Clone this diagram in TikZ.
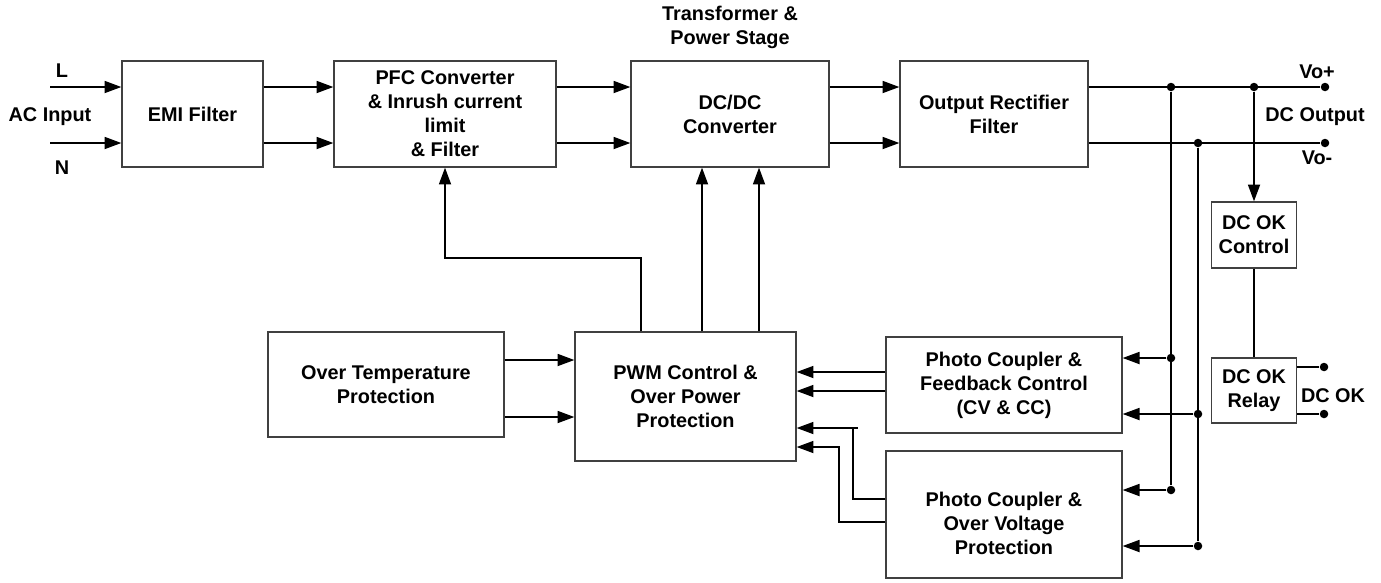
\documentclass[tikz,border=0pt]{standalone}
\usepackage{fontspec}
\setmainfont{Liberation Sans}
\usepackage{tikz}
\usetikzlibrary{positioning}
\usetikzlibrary{arrows.meta,shapes}
\usetikzlibrary{calc}
\newcommand{\boxfont}{\bfseries\fontsize{11.3pt}{13.6pt}\selectfont}
\tikzstyle{block}=[rectangle,draw=black!75,line width=0.7pt,fill=white,align=center,inner sep=2pt,font=\boxfont]
\tikzstyle{txt}=[align=center,inner sep=0pt,font=\boxfont]
\tikzstyle{dot}=[circle,fill=black,minimum size=0.17cm,inner sep=0pt]
\tikzstyle{edge} = [draw,line width=1.1pt,-{Triangle[length=9.6pt,width=6.8pt]}]
\tikzstyle{wire} = [draw,line width=1.1pt]

\begin{document}
\begin{tikzpicture}[x=0.02cm,y=-0.02cm]
    \useasboundingbox (0,0) rectangle (1381,582);
    \foreach \pos/\name/\w/\h/\label in {{(192.5,114)/emi/141/106/{EMI Filter}}, {(445,114)/pfc/222/106/{PFC Converter\\\& Inrush current\\limit\\\& Filter}}, {(730,114)/dcdc/198/106/{DC/DC\\Converter}}, {(994,114)/rect/188/106/{Output Rectifier\\Filter}}, {(386,384.5)/otp/236/105/{Over Temperature\\Protection}}, {(685.5,396.5)/pwm/221/129/{PWM Control \&\\Over Power\\Protection}}, {(1004,385)/pcfb/236/96/{Photo Coupler \&\\Feedback Control\\(CV \& CC)}}, {(1254,235)/okctl/85/66/{DC OK\\Control}}, {(1254,390.5)/okrelay/85/65/{DC OK\\Relay}}}
        \node[block,minimum width=\w*0.02cm,minimum height=\h*0.02cm] (\name) at \pos {\label};

    % text sits a bit low in this one
    \node[block,minimum width=236*0.02cm,minimum height=127*0.02cm,label={[txt,yshift=-0.18cm]center:Photo Coupler \&\\Over Voltage\\Protection}] (pcovp) at (1004,514.5) {};

    \foreach \pos/\name/\label in {{(62,71)/lblL/L}, {(50,117)/lblac/AC Input}, {(62,168)/lblN/N}, {(730,27)/lbltr/{Transformer \&\\Power Stage}}, {(1317,72)/lblvop/Vo+}, {(1315,117)/lbldc/DC Output}, {(1317,158)/lblvom/Vo-}, {(1333,396)/lblok/DC OK}}
        \node[txt] (\name) at \pos {\label};

    \foreach \pos/\name in {{(1325,87)/vop}, {(1325,143)/vom}, {(1171,87)/j1}, {(1254,87)/j2}, {(1198,143)/j3}, {(1171,358)/j4}, {(1198,414)/j5}, {(1171,490)/j6}, {(1198,546)/j7}, {(1324,367)/ok1}, {(1324,414)/ok2}}
        \node[dot] (\name) at \pos {};

    \coordinate (upper) at (0,87);
    \coordinate (lower) at (0,143);
    \coordinate (inL) at (50,87);
    \coordinate (inN) at (50,143);

    % power path
    \draw[edge] (inL) -- (emi.west |- inL);
    \draw[edge] (inN) -- (emi.west |- inN);
    \foreach \source/\dest in {emi/pfc, pfc/dcdc, dcdc/rect} {
        \draw[edge] (\source.east |- upper) -- (\dest.west |- upper);
        \draw[edge] (\source.east |- lower) -- (\dest.west |- lower);
    }
    \draw[wire] (rect.east |- vop) -- (vop);
    \draw[wire] (rect.east |- vom) -- (vom);
    \draw[wire] (j1) -- (j6);
    \draw[wire] (j3) -- (j7);

    % dc ok
    \draw[edge] (j2) -- (okctl.north);
    \draw[wire] (okctl.south) -- (okrelay.north);
    \draw[wire] (okrelay.east |- ok1) -- (ok1);
    \draw[wire] (okrelay.east |- ok2) -- (ok2);

    % feedback
    \foreach \source/\dest in {j4/pcfb, j5/pcfb, j6/pcovp, j7/pcovp}
        \draw[edge] (\source) -- (\dest.east |- \source);
    \foreach \y in {372,391}
        \draw[edge] (pcfb.west |- 0,\y) -- (pwm.east |- 0,\y);
    \draw[edge] (pcovp.west |- 0,499) -| (853,428) -- (pwm.east |- 0,428);
    \draw[wire] (853,428) -- (858,428);
    \draw[edge] (pcovp.west |- 0,522) -| (839,447) -- (pwm.east |- 0,447);
    \foreach \y in {360,417}
        \draw[edge] (otp.east |- 0,\y) -- (pwm.west |- 0,\y);

    % control
    \foreach \x in {702,759}
        \draw[edge] (pwm.north -| \x,0) -- (dcdc.south -| \x,0);
    \draw[edge] (pwm.north -| 641,0) -- (641,258) -| (pfc.south);
\end{tikzpicture}
\end{document}
